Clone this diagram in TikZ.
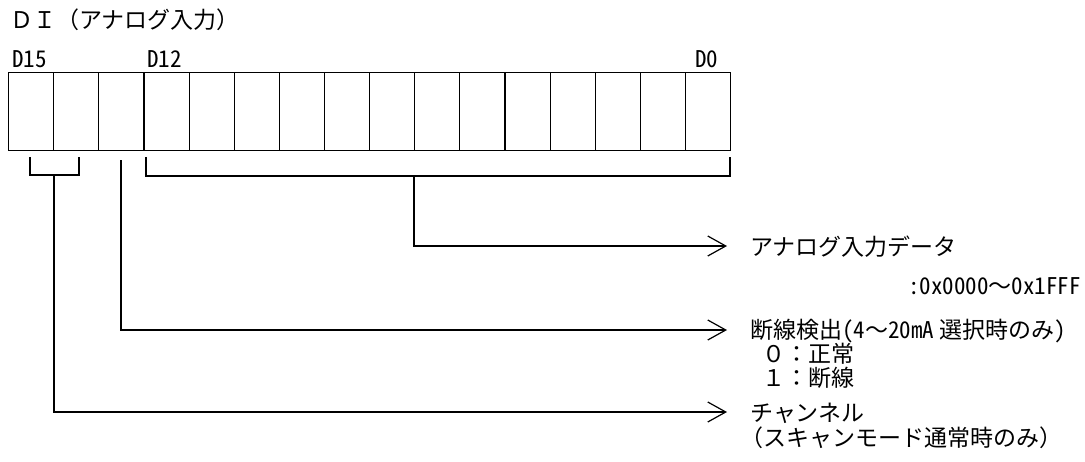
\documentclass[tikz,border=0pt]{standalone}
\usepackage{fontspec}
\setmainfont{Noto Sans CJK JP}
\newfontfamily\hw[RawFeature=+hwid]{Noto Sans CJK JP}
\usetikzlibrary{arrows.meta}
\begin{document}
\begin{tikzpicture}[x=1pt,y=-1pt,
  bit/.style={draw, line width=1.2pt, minimum width=45.125pt, minimum height=78pt, inner sep=0pt, anchor=north west},
  ln/.style={line width=1.2pt},
  arr/.style={ln, -{Straight Barb[length=18pt,width=20pt,line width=1.2pt]}},
  lbl/.style={inner sep=0pt, anchor=base west, font=\fontsize{23pt}{24pt}\selectfont}]
\useasboundingbox (0,0) rectangle (1085,461);
\foreach \i in {0,...,15} { \node[bit] (b\i) at ({8+45.125*\i},72) {}; }
% labels
\node[lbl] (title) at (10,28) {ＤＩ（アナログ入力）};
\node[lbl] (d15) at (12,67) {\hw D15};
\node[lbl] (d12) at (147,67) {\hw D12};
\node[lbl] (d0) at (695,67) {\hw D0};
% brackets
\coordinate (bl1) at (30,157);
\coordinate (bl2) at (30,175);
\coordinate (bl3) at (79,175);
\coordinate (bl4) at (79,157);
\draw[ln] (bl1) -- (bl2) -- (bl3) -- (bl4);
\coordinate (br1) at (146,157);
\coordinate (br2) at (146,176);
\coordinate (br3) at (730,176);
\coordinate (br4) at (730,157);
\draw[ln] (br1) -- (br2) -- (br3) -- (br4);
% connectors
\coordinate (sL) at (54,175);
\coordinate (eL) at (727,412);
\draw[arr] (sL) |- (eL);
\coordinate (sM) at (121,160);
\coordinate (eM) at (727,330);
\draw[arr] (sM) |- (eM);
\coordinate (sR) at (414,176);
\coordinate (eR) at (727,246);
\draw[arr] (sR) |- (eR);
% texts
\node[lbl] (t1) at (750,255) {アナログ入力データ};
\node[lbl, anchor=base east] (t1b) at (1081,294) {{\hw :0x0000}～{\hw 0x1FFF}};
\node[lbl] (t2) at (750,338) {断線検出{\hw (4}～{\hw 20mA} 選択時のみ{\hw )}};
\node[lbl] (t2a) at (762,362) {０：正常};
\node[lbl] (t2b) at (762,386) {１：断線};
\node[lbl] (t3) at (750,421) {チャンネル};
\node[lbl] (t3b) at (740,446) {（スキャンモード通常時のみ）};
\end{tikzpicture}
\end{document}
